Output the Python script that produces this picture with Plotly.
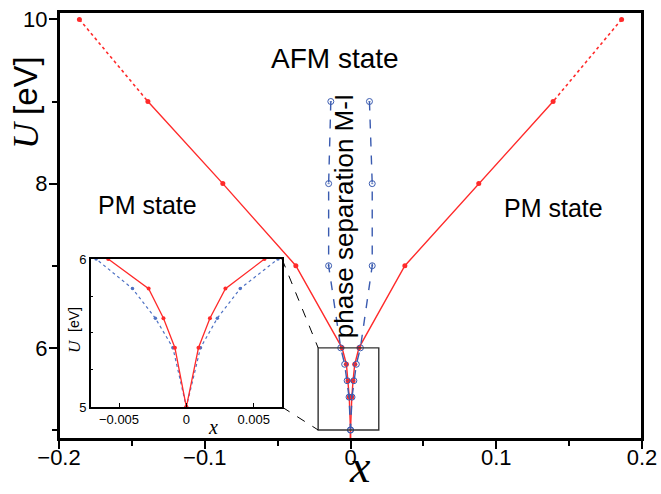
import plotly.graph_objects as go

# ---------------- data ----------------
U_red = [10, 9, 8, 7, 6, 5.8, 5.6, 5.4, 5.0, 4.8]
x_red_left = [-0.186, -0.139, -0.0876, -0.0375, -0.0058, -0.0028, -0.0017, -0.00085, 0.0, 0.0]
x_red_right = [0.186, 0.139, 0.088, 0.0373, 0.0058, 0.0029, 0.00175, 0.0009, 0.0, 0.0]

U_blue = [9, 8, 7, 6, 5.8, 5.6, 5.4, 5.0]
x_blue_left = [-0.0135, -0.015, -0.015, -0.0067, -0.004, -0.0023, -0.001, 0.0]
x_blue_right = [0.013, 0.0149, 0.0149, 0.0068, 0.004, 0.0023, 0.00105, 0.0]

x_ticks = [-0.2, -0.1, 0, 0.1, 0.2]
x_ticktext = ["\u22120.2", "\u22120.1", "0", "0.1", "0.2"]
x_minor = [-0.15, -0.05, 0.05, 0.15]
y_ticks = [6, 8, 10]
y_minor = [5, 7, 9]

ix_ticks = [-0.005, 0, 0.005]
ix_ticktext = ["\u22120.005", "0", "0.005"]
iy_ticks = [5, 6]
iy_minor = [5.25, 5.5, 5.75]

XR = [-0.2, 0.2]
YR = [4.89, 10.09]
IXR = [-0.0071, 0.0071]
IYR = [5, 6]
zoom_box = dict(x0=-0.0222, x1=0.0194, y0=5, y1=6)

RED = "#ff2a2a"
BLUE = "#3a5bb0"
BLUE2 = "#4f72c4"
FONT = "Liberation Sans, Arial, sans-serif"
SERIF = "Liberation Serif, Times New Roman, serif"

fig = go.Figure()

for xs in (x_red_left, x_red_right):
    fig.add_trace(go.Scatter(x=xs[:2], y=U_red[:2], mode="lines",
                             line=dict(color=RED, width=1.6, dash="dot"),
                             showlegend=False, hoverinfo="skip"))
    fig.add_trace(go.Scatter(x=xs[1:], y=U_red[1:], mode="lines",
                             line=dict(color=RED, width=1.4),
                             showlegend=False, hoverinfo="skip"))
    fig.add_trace(go.Scatter(x=xs[:8], y=U_red[:8], mode="markers",
                             marker=dict(color=RED, size=5),
                             showlegend=False, hoverinfo="skip"))
for xs in (x_blue_left, x_blue_right):
    fig.add_trace(go.Scatter(x=xs, y=U_blue, mode="lines+markers",
                             line=dict(color=BLUE, width=1.4, dash="dash"),
                             marker=dict(symbol="circle-open-dot", size=6, color=BLUE,
                                         line=dict(width=1, color=BLUE)),
                             showlegend=False, hoverinfo="skip"))

for xs in (x_blue_left, x_blue_right):
    fig.add_trace(go.Scatter(x=xs, y=U_blue, mode="lines+markers", xaxis="x2", yaxis="y2",
                             line=dict(color=BLUE2, width=1.2, dash="dot"),
                             marker=dict(color=BLUE2, size=3.5),
                             showlegend=False, hoverinfo="skip"))
for xs in (x_red_left, x_red_right):
    fig.add_trace(go.Scatter(x=xs, y=U_red, mode="lines+markers", xaxis="x2", yaxis="y2",
                             line=dict(color=RED, width=1.3),
                             marker=dict(color=RED, size=4),
                             showlegend=False, hoverinfo="skip"))

W, H = 661, 494
ml, mr, mt, mb = 59, 19, 12, 55
pw = W - ml - mr
ph = H - mt - mb

inset_dx = [0.0544, 0.3825]
inset_dy = [0.075, 0.4215]

def px(xv):
    return (xv - XR[0]) / (XR[1] - XR[0])

def py(yv):
    return (yv - YR[0]) / (YR[1] - YR[0])

def ppx(p):
    return (p - ml) / pw

def ppy(p):
    return (H - mb - p) / ph

shapes = [
    dict(type="rect", xref="paper", yref="paper", x0=0, x1=1, y0=0, y1=1,
         line=dict(color="black", width=2), layer="above"),
    dict(type="rect", xref="x", yref="y", x0=zoom_box["x0"], x1=zoom_box["x1"],
         y0=zoom_box["y0"], y1=zoom_box["y1"], line=dict(color="#333333", width=1.4)),
    dict(type="line", xref="paper", yref="paper", x0=inset_dx[1], y0=inset_dy[1],
         x1=px(zoom_box["x0"]), y1=py(zoom_box["y1"]),
         line=dict(color="black", width=1, dash="dash")),
    dict(type="line", xref="paper", yref="paper", x0=inset_dx[1], y0=inset_dy[0],
         x1=px(zoom_box["x0"]), y1=py(zoom_box["y0"]),
         line=dict(color="black", width=1, dash="dash")),
]

def ann(text, x, y, size, family=FONT, angle=0, xref="x", yref="y", **kw):
    d = dict(text=text, x=x, y=y, xref=xref, yref=yref, showarrow=False,
             xanchor="center", yanchor="middle",
             textangle=angle, font=dict(family=family, size=size, color="black"))
    d.update(kw)
    return d

annotations = [
    ann("AFM state", -0.0107, 9.52, 28),
    ann("PM state", -0.139, 7.74, 25),
    ann("PM state", 0.139, 7.70, 25),
    ann("phase separation M-I", -0.004, 7.6, 26, angle=-90),
    # main axis titles
    ann("<i>U</i>", ppx(26), ppy(135), 36, SERIF, -90, "paper", "paper"),
    ann("[eV]", ppx(26), ppy(86), 33, FONT, -90, "paper", "paper"),
    ann("<i>x</i>", ppx(360), ppy(494), 46, SERIF, 0, "paper", "paper", yanchor="bottom"),
    # inset axis titles
    ann("<i>U</i>", ppx(74), ppy(346), 17, SERIF, -90, "paper", "paper"),
    ann("[eV]", ppx(74), ppy(320), 14, FONT, -90, "paper", "paper"),
    ann("<i>x</i>", ppx(213), ppy(427), 20, SERIF, 0, "paper", "paper"),
]

fig.update_layout(
    width=W, height=H,
    margin=dict(l=ml, r=mr, t=mt, b=mb, autoexpand=False),
    paper_bgcolor="white", plot_bgcolor="white",
    font=dict(family=FONT, color="black"),
    shapes=shapes, annotations=annotations,
    xaxis=dict(range=XR, domain=[0, 1], showline=True, linecolor="black", linewidth=2,
               mirror=True, showgrid=False, zeroline=False, ticks="outside", ticklen=8,
               tickwidth=1.5, tickcolor="black", tickvals=x_ticks, ticktext=x_ticktext,
               tickfont=dict(size=22, family=FONT), automargin=False, ticklabelstandoff=-10,
               minor=dict(tickvals=x_minor, ticks="outside", ticklen=5, tickwidth=1.5,
                          tickcolor="black")),
    yaxis=dict(range=YR, domain=[0, 1], showline=True, linecolor="black", linewidth=2,
               mirror=True, showgrid=False, zeroline=False, ticks="outside", ticklen=8,
               tickwidth=1.5, tickcolor="black", tickvals=y_ticks, automargin=False,
               tickfont=dict(size=22, family=FONT), ticklabelstandoff=-3,
               minor=dict(tickvals=y_minor, ticks="outside", ticklen=5, tickwidth=1.5,
                          tickcolor="black")),
    xaxis2=dict(range=IXR, domain=inset_dx, anchor="y2", showline=True, linecolor="black",
                linewidth=1.5, mirror=True, showgrid=False, zeroline=False, ticks="inside",
                ticklen=4, tickcolor="black", tickvals=ix_ticks, ticktext=ix_ticktext,
                tickfont=dict(size=13, family=FONT), automargin=False),
    yaxis2=dict(range=IYR, domain=inset_dy, anchor="x2", showline=True, linecolor="black",
                linewidth=1.5, mirror=True, showgrid=False, zeroline=False, ticks="inside",
                ticklen=4, tickcolor="black", tickvals=iy_ticks, automargin=False,
                tickfont=dict(size=13, family=FONT),
                minor=dict(tickvals=iy_minor, ticks="inside", ticklen=3, tickcolor="black")),
)

fig.write_html("out.html", config={"displayModeBar": False},
               post_script="document.body.style.margin='0px';")
